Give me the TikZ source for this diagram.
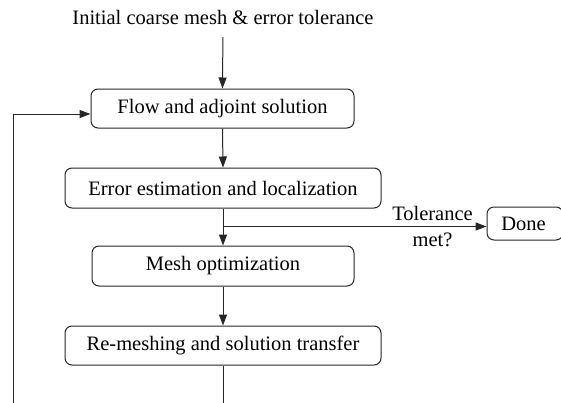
\documentclass[tikz,border=0pt]{standalone}
\usepackage{fontspec}
\setmainfont{Liberation Serif}
\usetikzlibrary{arrows.meta}
\begin{document}
\begin{tikzpicture}[x=1pt,y=-1pt,
  line width=1pt,
  every node/.style={font=\fontsize{20.5}{24}\selectfont},
  stepbox/.style={draw=black!85, rounded corners=7pt, inner sep=0pt, line width=1pt},
  arr/.style={draw=black!85, -{Triangle[length=11pt,width=8pt]}},
  plain/.style={draw=black!85}]
\useasboundingbox (0,0) rectangle (561,402);
\node[anchor=base, inner sep=0pt] (title) at (223,24) {Initial coarse mesh \& error tolerance};
\node[stepbox, minimum width=263pt, minimum height=39pt] (flow) at (222.5,108.5) {Flow and adjoint solution};
\node[stepbox, minimum width=316pt, minimum height=40pt] (err) at (223,188) {Error estimation and localization};
\node[stepbox, minimum width=262pt, minimum height=40pt] (mesh) at (223,266) {Mesh optimization};
\node[stepbox, minimum width=316pt, minimum height=39pt] (remesh) at (223,345.5) {Re-meshing and solution transfer};
\node[stepbox, minimum width=76pt, minimum height=33pt] (done) at (525,223.5) {\hspace*{-3pt}Done};
\node[anchor=base, inner sep=0pt] (tol) at (432.5,220) {Tolerance};
\node[anchor=base, inner sep=0pt] (met) at (432.5,246.5) {met?};
\coordinate (br) at (223,226.5);
\coordinate (loopbot) at (13,404);
\coordinate (bottom) at (223,404);
\draw[arr, shorten <=12.5pt] (title.south) -- (flow.north);
\draw[arr] (flow.south) -- (err.north);
\draw[arr] (err.south) -- (mesh.north);
\draw[arr] (br) -- (br -| done.west);
\draw[arr] (mesh.south) -- (remesh.north);
\draw[plain] (remesh.south) -- (bottom);
\draw[arr] (loopbot) |- ([yshift=-5.5pt]flow.west);
\end{tikzpicture}
\end{document}
